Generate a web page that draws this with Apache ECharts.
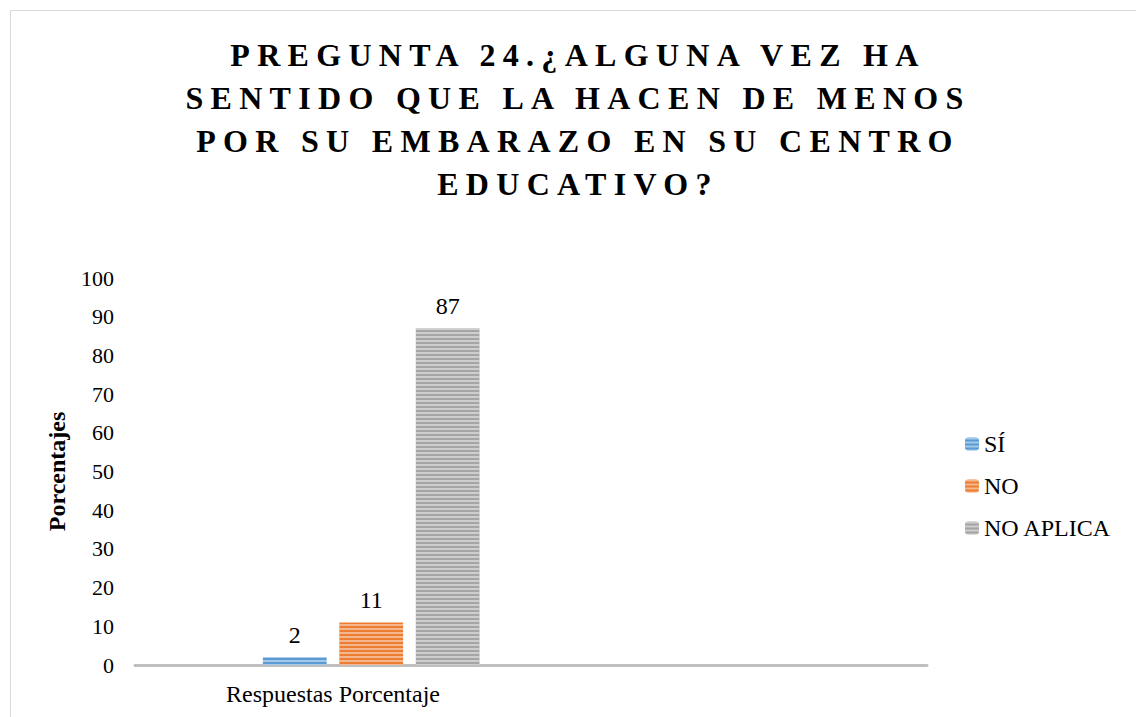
<!DOCTYPE html>
<html>
<head>
<meta charset="utf-8">
<script src="https://cdn.jsdelivr.net/npm/echarts@6/dist/echarts.min.js"></script>
<style>
html,body{margin:0;padding:0;background:#fff;}
#c{width:1136px;height:717px;}
#c svg text[style*="32px"]{letter-spacing:7.3px;}
</style>
</head>
<body>
<div id="c"></div>
<script>
const titleText = 'PREGUNTA 24.¿ALGUNA VEZ HA\nSENTIDO QUE LA HACEN DE MENOS\nPOR SU EMBARAZO EN SU CENTRO\nEDUCATIVO?';
const categories = ['Respuestas Porcentaje', ''];
const seriesNames = ['Respuestas', 'SÍ', 'NO', 'NO APLICA'];
const seriesValues = [
  [null, null],
  [2, null],
  [11, null],
  [87, null]
];
const seriesColors = ['#ffffff', '#5b9bd5', '#ed7d31', '#a5a5a5'];
const yTicks = { min: 0, max: 100, interval: 10 };

const FONT = '"Liberation Serif", "Times New Roman", serif';
const chart = echarts.init(document.getElementById('c'), null, { renderer: 'svg' });

const decal = {
  symbol: 'rect', symbolSize: 1, rotation: 0,
  dashArrayX: [1, 0], dashArrayY: [2, 2],
  color: 'rgba(255,255,255,0.45)'
};

chart.setOption({
  backgroundColor: '#fff',
  animation: false,
  graphic: [{
    type: 'rect', silent: true,
    shape: { x: 10.5, y: 10.5, width: 1300, height: 900 },
    style: { fill: 'none', stroke: '#d9d9d9', lineWidth: 1 }
  }],
  title: {
    text: titleText,
    left: 578, top: 33, textAlign: 'center', padding: 0,
    textStyle: { fontFamily: FONT, fontWeight: 'bold', fontSize: 32, lineHeight: 43, color: '#000' }
  },
  legend: {
    orient: 'vertical', left: 960, top: 427,
    data: seriesNames.slice(1),
    itemWidth: 14, itemHeight: 13, itemGap: 18,
    textStyle: { fontFamily: FONT, fontSize: 24, color: '#000' }
  },
  grid: { left: 135, right: 209, top: 278, bottom: 52 },
  xAxis: {
    type: 'category', data: categories,
    axisLine: { lineStyle: { color: '#bfbfbf', width: 3 } },
    axisTick: { show: false },
    axisLabel: { fontFamily: FONT, fontSize: 24, color: '#000', margin: 17 }
  },
  yAxis: {
    type: 'value', min: yTicks.min, max: yTicks.max, interval: yTicks.interval,
    name: 'Porcentajes', nameLocation: 'middle', nameGap: 66, nameRotate: 90,
    nameTextStyle: { fontFamily: FONT, fontSize: 24, fontWeight: 'bold', color: '#000' },
    axisLine: { show: false }, axisTick: { show: false }, splitLine: { show: false },
    axisLabel: { fontFamily: FONT, fontSize: 22, color: '#000', margin: 21 }
  },
  series: seriesNames.map((n, i) => ({
    type: 'bar', name: n, data: seriesValues[i],
    barGap: '20%', barCategoryGap: '26%',
    itemStyle: { color: seriesColors[i], decal: i === 0 ? null : decal },
    label: { show: i > 0, position: 'top', distance: 10, fontFamily: FONT, fontSize: 24, color: '#000' }
  }))
});
</script>
</body>
</html>
